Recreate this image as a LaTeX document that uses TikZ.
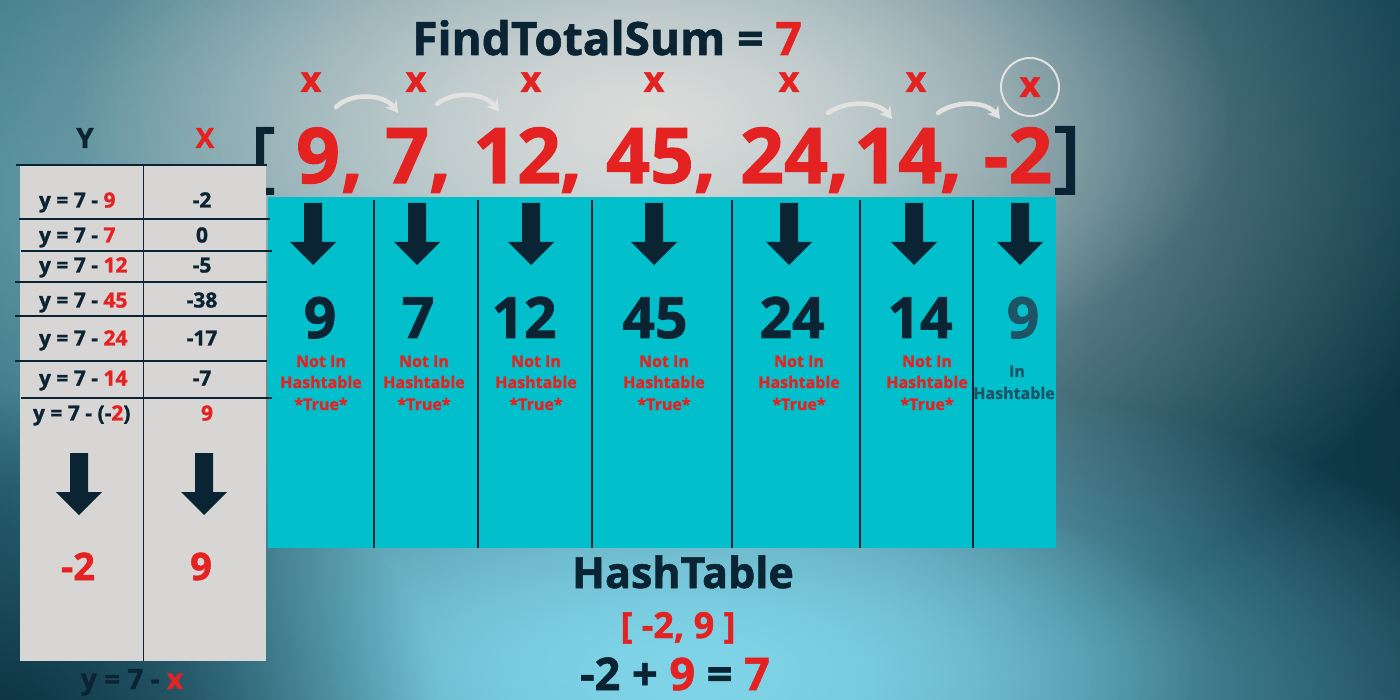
\documentclass[tikz,border=0pt]{standalone}
\usepackage{fontspec}
\setmainfont{Open Sans}
\newfontface\heavyface{Open Sans Bold}[RawFeature={embolden=1.3}]
\usetikzlibrary{fadings,arrows.meta}
\tikzfading[name=glowfade, inner color=transparent!0, outer color=transparent!100]
\definecolor{navy}{HTML}{0B2433}
\definecolor{redx}{HTML}{E42222}
\definecolor{cyanp}{HTML}{02C0CB}
\definecolor{grayp}{HTML}{D7D6D5}
\definecolor{tealt}{HTML}{1E5466}
\definecolor{bgbase}{HTML}{1D5668}
\definecolor{leftteal}{HTML}{3A7F8F}
\definecolor{glow}{HTML}{AFC6CA}
\definecolor{core}{HTML}{DCDDDB}
\definecolor{cyanglow}{HTML}{80D4E8}
\definecolor{deep}{HTML}{0C3240}
\definecolor{arrw}{HTML}{E2E3E1}
\newcommand\fsz[1]{\heavyface\fontsize{#1}{#1}\selectfont}
\tikzset{
  lbl/.style={inner sep=0pt, outer sep=0pt, anchor=base},
  lblw/.style={inner sep=0pt, outer sep=0pt, anchor=base west},
  carrow/.style={draw=arrw, line width=4.5pt, line cap=round, -{Stealth[length=12pt,width=14pt]}},
  divline/.style={draw=navy, line width=1.3pt},
  darr/.pic={\fill[navy] (-9,0) -- (9,0) -- (9,39) -- (23,39) -- (0,62) -- (-23,39) -- (-9,39) -- cycle;}
}
\begin{document}
\begin{tikzpicture}[x=1pt,y=-1pt]
\useasboundingbox (0,0) rectangle (1400,700);
\begin{scope}
\clip (0,0) rectangle (1400,700);
% background
\fill[bgbase] (0,0) rectangle (1400,700);
\fill[leftteal, path fading=glowfade] (30,200) ellipse [x radius=560pt, y radius=560pt];
\fill[deep, path fading=glowfade] (1480,430) ellipse [x radius=760pt, y radius=1000pt];
\fill[glow, path fading=glowfade] (620,170) ellipse [x radius=860pt, y radius=520pt];
\fill[core, path fading=glowfade] (650,115) ellipse [x radius=580pt, y radius=300pt];
\fill[cyanglow, path fading=glowfade] (690,690) ellipse [x radius=860pt, y radius=330pt];
\fill[cyanglow, path fading=glowfade] (690,660) ellipse [x radius=520pt, y radius=200pt];
\fill[deep, path fading=glowfade] (0,720) ellipse [x radius=440pt, y radius=330pt];
\end{scope}

% title
\node[lbl, font=\fsz{46}, text=navy] (title) at (607,55) {FindTotalSum = \textcolor{redx}{7}};

% x marks
\foreach \xx [count=\i] in {311,416,531,654,789,916}
  \node[lbl, font=\fsz{36}, text=redx] (x\i) at (\xx,92) {x};
\node[lbl, font=\fsz{36}, text=redx] (x7) at (1030,97) {x};
\node[circle, draw=arrw, line width=2pt, minimum size=58pt, inner sep=0pt] (xc) at (1030,87) {};

% curved arrows
\coordinate (a1s) at (336,107); \coordinate (a1e) at (398,113);
\coordinate (a2s) at (437,104); \coordinate (a2e) at (499,112);
\coordinate (a3s) at (828,113); \coordinate (a3e) at (892,119);
\coordinate (a4s) at (938,113); \coordinate (a4e) at (1000,119);
\draw[carrow] (a1s) .. controls (352,92) and (384,94) .. (a1e);
\draw[carrow] (a2s) .. controls (455,90) and (485,93) .. (a2e);
\draw[carrow] (a3s) .. controls (846,100) and (878,101) .. (a3e);
\draw[carrow] (a4s) .. controls (956,100) and (986,101) .. (a4e);

% array
\fill[navy] (256,127) -- (274,127) -- (274,134) -- (264,134) -- (264,188) -- (274,188) -- (274,195) -- (256,195) -- cycle;
\fill[navy] (1055,126) -- (1075,126) -- (1075,195) -- (1055,195) -- (1055,188) -- (1066,188) -- (1066,133) -- (1055,133) -- cycle;
\foreach \nx/\nv/\cx [count=\i] in {318/9/352, 407/7/440, 517/12/571, 650/45/705, 784/24/838, 898/14/951}{
  \node[lbl, font=\fsz{77}, text=redx] (arr\i) at (\nx,183) {\nv};
  \node[lbl, font=\fsz{77}, text=redx] (com\i) at (\cx,183) {,};
}
\node[lbl, font=\fsz{77}, text=redx] (arr7) at (1018,183) {-2};

% cyan panel
\fill[cyanp] (268,197) rectangle (1056,548);
\foreach \dx in {374,478,592,732,860,973}
  \draw[divline] (\dx,200) -- (\dx,548);

\foreach \ax/\nx/\nv/\tx [count=\i] in {313/320/9/321, 417/418/7/424, 531/524/12/536, 654/655/45/664, 789/792/24/799, 914/920/14/927}{
  \pic at (\ax,203) {darr};
  \node[lbl, font=\fsz{57}, text=navy] (num\i) at (\nx,338) {\nv};
  \node[lbl, font=\fsz{16}, text=redx] (nota\i) at (\tx,367) {Not In};
  \node[lbl, font=\fsz{16}, text=redx] (notb\i) at (\tx,388) {Hashtable};
  \node[lbl, font=\fsz{16}, text=redx] (notc\i) at (\tx,410) {*True*};
}
\pic at (1020,203) {darr};
\node[lbl, font=\fsz{57}, text=tealt] (num7) at (1023,338) {9};
\node[lbl, font=\fsz{16}, text=tealt] (ina) at (1017,377) {In};
\node[lbl, font=\fsz{16}, text=tealt] (inb) at (1014,399) {Hashtable};

% hashtable result
\node[lbl, font=\fsz{43}, text=navy] (ht) at (683,588) {HashTable};
\node[lbl, font=\fsz{36}, text=redx] (htv) at (678,638) {[ -2, 9 ]};
\node[lbl, font=\fsz{45}, text=navy] (sum) at (675,690) {-2 + \textcolor{redx}{9} = \textcolor{redx}{7}};

% left table
\fill[grayp] (20,165) rectangle (266,661);
\draw[divline] (16,165) -- (267,165);
\draw[divline] (19,219) -- (270,219);
\draw[divline] (21,251) -- (272,251);
\draw[divline] (15,282) -- (267,282);
\draw[divline] (15,316) -- (267,316);
\draw[divline] (15,361) -- (267,361);
\draw[divline] (21,398) -- (272,398);
\draw[divline] (143.5,165) -- (143.5,661);

\node[lbl, font=\fsz{28}, text=navy] (hy) at (85,148) {Y};
\node[lbl, font=\fsz{28}, text=redx] (hx) at (205,148) {X};

\foreach \yy/\a/\b [count=\i] in {207.5/9/-2, 242.5/7/0, 272.5/12/-5, 307.5/45/-38, 345.5/24/-17, 385.5/14/-7}{
  \node[lblw, font=\fsz{21}, text=navy] (ry\i) at (39,\yy) {y = 7 - \textcolor{redx}{\a}};
  \node[lbl, font=\fsz{21}, text=navy] (rx\i) at (202,\yy) {\b};
}
\node[lblw, font=\fsz{21}, text=navy] (ry7) at (33,420.5) {y = 7 - (-\textcolor{redx}{2})};
\node[lbl, font=\fsz{21}, text=redx] (rx7) at (207,420.5) {9};

\pic at (79,453) {darr};
\pic at (204,453) {darr};
\node[lbl, font=\fsz{38}, text=redx] (resy) at (78,580) {-2};
\node[lbl, font=\fsz{38}, text=redx] (resx) at (201,580) {9};

\node[lbl, font=\fsz{28}, text=navy] (formula) at (132,689) {y = 7 - \textcolor{redx}{x}};
\end{tikzpicture}
\end{document}
